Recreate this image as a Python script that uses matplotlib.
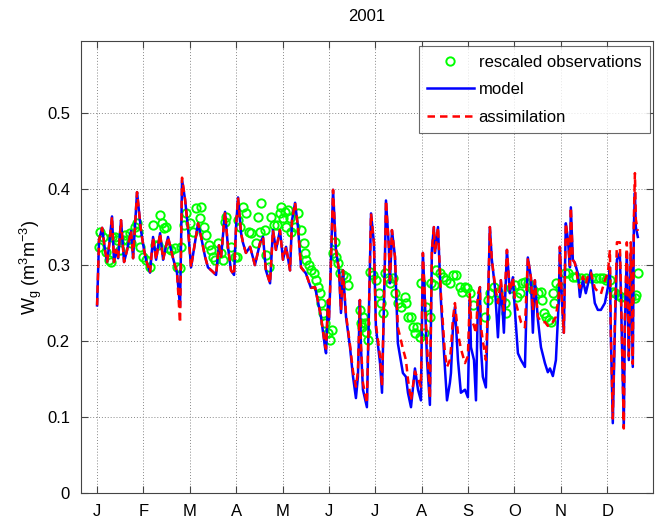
import matplotlib.pyplot as plt

plt.rcParams['font.family'] = ['Liberation Sans', 'DejaVu Sans']
plt.rcParams['mathtext.default'] = 'regular'

# day of year / soil moisture (m3 m-3)
model_day = [1.0, 2.3, 4.3, 6.2, 7.6, 8.9, 10.8, 12.1, 13.5, 14.8, 16.7, 18.7, 20.7, 23.3,
             24.6, 27.2, 29.8, 31.8, 33.1, 35.7, 37.7, 39.7, 42.3, 44.3, 47.5, 50.8, 53.4,
             55.4, 56.7, 58.7, 60.6, 62.6, 65.2, 67.2, 69.2, 71.8, 73.7, 77.0, 79.0, 80.9,
             82.3, 84.9, 86.8, 88.8, 90.8, 92.1, 93.4, 95.4, 96.7, 98.6, 101.3, 104.5,
             107.8, 109.8, 111.7, 114.4, 116.3, 118.3, 120.9, 122.9, 124.9, 127.5, 128.8,
             130.8, 132.7, 134.7, 137.9, 141.2, 143.9, 147.8, 150.4, 151.1, 152.4, 153.0,
             153.7, 155.7, 157.6, 159.6, 160.9, 162.2, 164.2, 166.8, 168.8, 170.7, 172.0,
             173.3, 174.0, 175.3, 177.9, 179.9, 180.6, 182.5, 183.8, 186.5, 187.8, 189.7,
             190.4, 192.3, 193.0, 194.3, 196.3, 198.2, 201.5, 203.5, 204.8, 206.8, 209.4,
             211.4, 213.3, 214.6, 215.9, 217.3, 219.2, 220.5, 221.8, 222.5, 224.5, 226.4,
             229.0, 230.4, 232.3, 233.0, 234.3, 235.6, 237.6, 239.5, 242.2, 244.1, 245.4,
             246.1, 248.1, 249.4, 250.7, 252.0, 252.6, 253.9, 255.9, 257.2, 258.5, 259.8,
             261.8, 263.8, 265.7, 267.7, 269.7, 271.6, 273.6, 274.9, 276.9, 278.9, 281.5,
             283.4, 285.4, 286.7, 288.0, 290.0, 292.0, 294.6, 296.5, 297.9, 299.8, 301.8,
             303.7, 304.4, 305.7, 307.0, 308.3, 309.7, 311.0, 311.6, 312.9, 314.2, 316.2,
             317.5, 319.5, 321.4, 323.4, 324.7, 327.3, 329.3, 331.3, 333.9, 335.9, 337.2,
             337.8, 339.1, 340.5, 341.8, 343.7, 344.4, 346.3, 347.0, 348.3, 349.6, 350.9,
             352.2, 352.9, 353.6, 354.2, 355.5]

model = [0.247, 0.333, 0.349, 0.320, 0.304, 0.326, 0.364, 0.304, 0.320, 0.309, 0.359, 0.304,
         0.320, 0.345, 0.309, 0.396, 0.345, 0.320, 0.307, 0.290, 0.337, 0.307, 0.342, 0.307,
         0.337, 0.309, 0.290, 0.245, 0.412, 0.386, 0.349, 0.297, 0.330, 0.355, 0.337, 0.311,
         0.297, 0.291, 0.287, 0.326, 0.311, 0.370, 0.324, 0.293, 0.287, 0.350, 0.389, 0.342,
         0.329, 0.316, 0.324, 0.300, 0.329, 0.337, 0.293, 0.276, 0.346, 0.320, 0.346, 0.307,
         0.324, 0.293, 0.359, 0.382, 0.350, 0.297, 0.289, 0.270, 0.271, 0.232, 0.192, 0.184,
         0.254, 0.228, 0.263, 0.399, 0.320, 0.293, 0.237, 0.293, 0.232, 0.192, 0.153, 0.125,
         0.153, 0.254, 0.192, 0.136, 0.113, 0.300, 0.368, 0.329, 0.218, 0.171, 0.132, 0.307,
         0.385, 0.324, 0.276, 0.346, 0.311, 0.197, 0.158, 0.153, 0.132, 0.113, 0.164, 0.136,
         0.122, 0.316, 0.254, 0.175, 0.116, 0.320, 0.350, 0.316, 0.350, 0.254, 0.166, 0.122,
         0.145, 0.158, 0.218, 0.245, 0.175, 0.132, 0.136, 0.126, 0.254, 0.192, 0.175, 0.122,
         0.254, 0.271, 0.192, 0.153, 0.139, 0.241, 0.350, 0.307, 0.271, 0.205, 0.280, 0.211,
         0.320, 0.263, 0.284, 0.241, 0.184, 0.175, 0.166, 0.310, 0.284, 0.211, 0.280, 0.228,
         0.192, 0.171, 0.159, 0.164, 0.154, 0.175, 0.254, 0.324, 0.254, 0.211, 0.355, 0.333,
         0.297, 0.376, 0.307, 0.303, 0.289, 0.258, 0.280, 0.263, 0.280, 0.293, 0.250, 0.241,
         0.241, 0.250, 0.271, 0.297, 0.211, 0.092, 0.218, 0.307, 0.316, 0.263, 0.087, 0.218,
         0.316, 0.175, 0.316, 0.166, 0.350, 0.395, 0.350, 0.337]

assim = [0.247, 0.333, 0.349, 0.320, 0.304, 0.326, 0.364, 0.304, 0.320, 0.309, 0.359, 0.304,
         0.320, 0.345, 0.309, 0.396, 0.345, 0.320, 0.307, 0.290, 0.337, 0.307, 0.342, 0.307,
         0.337, 0.309, 0.290, 0.224, 0.415, 0.386, 0.349, 0.297, 0.330, 0.355, 0.337, 0.311,
         0.297, 0.291, 0.287, 0.326, 0.311, 0.370, 0.324, 0.293, 0.287, 0.350, 0.389, 0.342,
         0.329, 0.316, 0.324, 0.300, 0.329, 0.337, 0.293, 0.276, 0.346, 0.320, 0.346, 0.307,
         0.324, 0.293, 0.359, 0.382, 0.350, 0.297, 0.289, 0.270, 0.271, 0.232, 0.195, 0.190,
         0.254, 0.228, 0.263, 0.399, 0.320, 0.293, 0.240, 0.293, 0.235, 0.195, 0.160, 0.140,
         0.160, 0.254, 0.195, 0.145, 0.118, 0.300, 0.368, 0.329, 0.222, 0.180, 0.140, 0.307,
         0.385, 0.324, 0.280, 0.346, 0.311, 0.218, 0.190, 0.175, 0.150, 0.122, 0.160, 0.150,
         0.140, 0.316, 0.258, 0.195, 0.125, 0.320, 0.350, 0.316, 0.350, 0.262, 0.185, 0.166,
         0.175, 0.190, 0.230, 0.250, 0.210, 0.190, 0.171, 0.180, 0.262, 0.230, 0.220, 0.210,
         0.262, 0.271, 0.220, 0.200, 0.175, 0.245, 0.350, 0.307, 0.275, 0.250, 0.280, 0.240,
         0.320, 0.265, 0.284, 0.255, 0.240, 0.225, 0.218, 0.310, 0.284, 0.240, 0.280, 0.232,
         0.225, 0.225, 0.220, 0.225, 0.225, 0.232, 0.260, 0.324, 0.254, 0.211, 0.355, 0.333,
         0.300, 0.376, 0.307, 0.303, 0.280, 0.270, 0.285, 0.275, 0.290, 0.290, 0.270, 0.265,
         0.262, 0.280, 0.290, 0.320, 0.211, 0.098, 0.230, 0.330, 0.330, 0.270, 0.085, 0.230,
         0.330, 0.180, 0.330, 0.170, 0.360, 0.421, 0.360, 0.345]

obs_day = [2.3, 3.0, 4.9, 6.9, 8.9, 10.2, 10.8, 12.8, 14.1, 16.1, 18.0, 19.3, 20.7, 22.6,
           23.3, 25.9, 27.2, 27.9, 29.2, 31.1, 33.1, 35.7, 37.7, 39.0, 41.0, 42.3, 43.6,
           44.9, 46.2, 47.5, 49.5, 52.1, 53.4, 55.4, 56.0, 58.0, 59.3, 61.9, 63.9, 65.9,
           68.5, 69.2, 71.1, 72.4, 74.4, 75.7, 77.0, 78.3, 80.3, 82.3, 83.6, 84.9, 85.5,
           88.8, 91.4, 92.7, 93.4, 94.7, 96.7, 98.6, 100.6, 101.9, 105.2, 106.5, 107.8,
           108.5, 111.1, 111.7, 113.7, 115.0, 117.0, 118.9, 120.9, 121.6, 122.9, 124.2,
           124.9, 126.2, 127.5, 128.1, 130.8, 132.7, 134.7, 136.6, 137.3, 137.9, 139.9,
           141.2, 143.2, 144.5, 145.8, 147.1, 147.8, 149.1, 150.4, 152.4, 153.7, 155.0,
           155.7, 157.0, 157.6, 158.9, 160.2, 162.2, 164.2, 165.5, 173.3, 174.0, 174.6,
           175.3, 176.6, 177.3, 178.6, 179.9, 181.9, 183.8, 185.8, 187.1, 188.4, 189.7,
           191.7, 193.0, 195.0, 196.3, 198.2, 200.2, 202.8, 203.5, 204.8, 206.8, 208.1,
           209.4, 210.7, 212.7, 213.3, 215.3, 216.6, 219.2, 219.9, 221.8, 223.2, 225.8,
           227.7, 229.7, 232.3, 234.3, 236.3, 238.9, 240.2, 242.2, 243.5, 245.4, 247.4,
           255.3, 257.2, 258.5, 261.2, 263.8, 265.7, 268.4, 269.0, 272.3, 274.9, 276.2,
           278.2, 279.5, 281.5, 283.4, 285.4, 286.7, 290.0, 292.0, 292.6, 293.9, 295.2,
           297.2, 298.5, 299.8, 300.5, 301.8, 304.4, 307.7, 309.7, 312.9, 314.9, 318.2,
           321.4, 324.7, 328.0, 330.6, 332.6, 334.5, 337.2, 339.1, 340.5, 342.4, 344.4,
           347.0, 349.0, 350.9, 353.6, 354.2, 355.5]

obs = [0.324, 0.343, 0.337, 0.317, 0.307, 0.304, 0.337, 0.337, 0.333, 0.320, 0.333, 0.339,
       0.333, 0.342, 0.329, 0.350, 0.355, 0.343, 0.324, 0.311, 0.307, 0.297, 0.353, 0.326,
       0.326, 0.366, 0.355, 0.349, 0.350, 0.322, 0.320, 0.322, 0.297, 0.296, 0.324, 0.353,
       0.368, 0.355, 0.343, 0.375, 0.362, 0.376, 0.350, 0.339, 0.326, 0.320, 0.311, 0.307,
       0.329, 0.316, 0.307, 0.357, 0.363, 0.324, 0.311, 0.311, 0.359, 0.350, 0.376, 0.368,
       0.343, 0.342, 0.329, 0.363, 0.343, 0.382, 0.346, 0.313, 0.297, 0.363, 0.353, 0.353,
       0.368, 0.376, 0.362, 0.370, 0.350, 0.372, 0.362, 0.343, 0.350, 0.368, 0.346, 0.329,
       0.316, 0.307, 0.300, 0.293, 0.289, 0.280, 0.271, 0.263, 0.250, 0.237, 0.224, 0.211,
       0.201, 0.214, 0.316, 0.330, 0.311, 0.303, 0.289, 0.287, 0.284, 0.274, 0.241, 0.224,
       0.218, 0.232, 0.224, 0.212, 0.201, 0.291, 0.287, 0.280, 0.263, 0.250, 0.237, 0.289,
       0.283, 0.276, 0.283, 0.263, 0.250, 0.245, 0.258, 0.250, 0.232, 0.232, 0.218, 0.211,
       0.218, 0.205, 0.276, 0.211, 0.245, 0.232, 0.276, 0.274, 0.293, 0.289, 0.284, 0.280,
       0.276, 0.287, 0.287, 0.271, 0.264, 0.271, 0.270, 0.263, 0.247, 0.232, 0.254, 0.263,
       0.271, 0.264, 0.254, 0.250, 0.237, 0.270, 0.274, 0.258, 0.263, 0.276, 0.278, 0.276,
       0.271, 0.267, 0.263, 0.264, 0.254, 0.237, 0.232, 0.228, 0.225, 0.263, 0.250, 0.276,
       0.271, 0.289, 0.289, 0.284, 0.284, 0.283, 0.283, 0.283, 0.283, 0.283, 0.283, 0.280,
       0.280, 0.264, 0.263, 0.261, 0.258, 0.258, 0.258, 0.258, 0.257, 0.261, 0.289]

month_labels = ['J', 'F', 'M', 'A', 'M', 'J', 'J', 'A', 'S', 'O', 'N', 'D']
month_ticks = [1 + 30.4 * k for k in range(12)]

fig = plt.figure(figsize=(6.59, 5.24), dpi=100)
ax = fig.add_axes([0.123, 0.059, 0.868, 0.863])

ax.plot(obs_day, obs, 'o', mfc='none', mec=(0, 1, 0), ms=6, mew=1.4,
        label='rescaled observations')
ax.plot(model_day, model, '-', color=(0, 0, 1), lw=1.8, label='model')
ax.plot(model_day, assim, '--', color=(1, 0, 0), lw=1.8, dashes=(3, 2),
        label='assimilation')

ax.set_xlim(-9.5, 365.5)
ax.set_ylim(0, 0.595)
ax.set_xticks(month_ticks)
ax.set_xticklabels(month_labels)
ax.set_yticks([0, 0.1, 0.2, 0.3, 0.4, 0.5])
ax.set_yticklabels(['0', '0.1', '0.2', '0.3', '0.4', '0.5'])
ax.tick_params(direction='in', length=5, top=True, right=True, labelsize=12,
               color='#444444', pad=8)
ax.grid(True, linestyle=(0, (1, 2)), color='#888888', lw=0.7)
for s in ax.spines.values():
    s.set_color('#444444')

ax.set_title('2001', fontsize=12, pad=14)
ax.set_ylabel('W$_g$ (m$^3$m$^{-3}$)', fontsize=13, labelpad=2)

leg = ax.legend(loc='upper right', bbox_to_anchor=(0.994, 0.988), fontsize=12,
                fancybox=False, edgecolor='#444444', handlelength=2.8,
                borderaxespad=0, labelspacing=0.75, handletextpad=0.3,
                borderpad=0.5)
leg.get_frame().set_linewidth(0.8)

fig.savefig('out.png', dpi=100)
